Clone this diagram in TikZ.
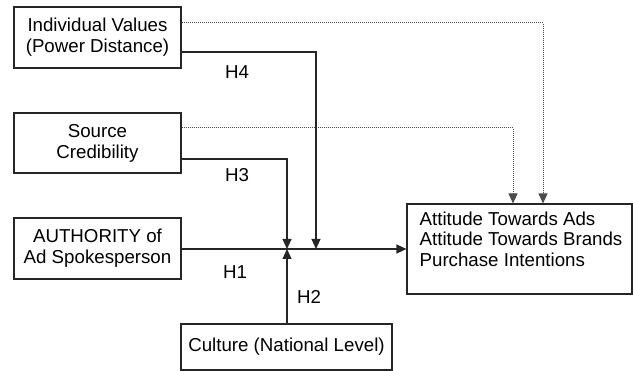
\documentclass[tikz,border=0pt]{standalone}
\usepackage{fontspec}
\setmainfont{Liberation Sans}
\usetikzlibrary{arrows.meta}
\begin{document}
\begin{tikzpicture}[x=1pt,y=-1pt,
  box/.style={draw=black!85, line width=1.1pt, inner sep=0pt, align=center,
    font=\fontsize{18.7}{21}\selectfont},
  lbl/.style={font=\fontsize{18.7}{21}\selectfont, inner sep=0pt},
  solidc/.style={draw=black!85, line width=1.1pt},
  dotc/.style={draw=black!70, line width=1pt, dash pattern=on 1pt off 1pt},
  tip/.style={-{Triangle[length=10pt,width=9pt]}}]
\useasboundingbox (0,0) rectangle (633,371);
\node[box, minimum width=167pt, minimum height=61pt] (ind) at (97.5,37.5) {Individual Values\\(Power Distance)};
\node[box, minimum width=167pt, minimum height=60pt] (src) at (97.5,143) {Source\\Credibility};
\node[box, minimum width=167pt, minimum height=61pt] (auth) at (97.5,248.5) {AUTHORITY of\\Ad Spokesperson};
\node[box, minimum width=211pt, minimum height=46pt] (cult) at (286.5,347) {Culture (National Level)};
\node[box, minimum width=225pt, minimum height=90pt] (out) at (519.5,249) {};
\node[lbl, anchor=north west, align=left, font=\fontsize{18.7}{20.5}\selectfont] (outtxt) at ([xshift=13pt,yshift=-8pt]out.north west) {Attitude Towards Ads\\Attitude Towards Brands\\Purchase Intentions};
\coordinate (j1) at (287,249);
\coordinate (j2) at (316,249);
% dotted paths
\draw[dotc, tip] (ind.east |- 0,23) -| (out.north -| 543,0);
\draw[dotc, tip] (src.east |- 0,128) -| (out.north -| 513,0);
% solid moderating paths
\draw[solidc, tip] (ind.east |- 0,52) -| (j2);
\draw[solidc, tip] (src.east |- 0,159) -| (j1);
\draw[solidc, tip] (cult.north -| j1) -- (j1);
\draw[solidc, tip] (auth.east |- j1) -- (out.west |- j1);
% labels
\node[lbl] (h4) at (237,72) {H4};
\node[lbl] (h3) at (237,175) {H3};
\node[lbl] (h1) at (235,272) {H1};
\node[lbl] (h2) at (309,297) {H2};
\end{tikzpicture}
\end{document}
